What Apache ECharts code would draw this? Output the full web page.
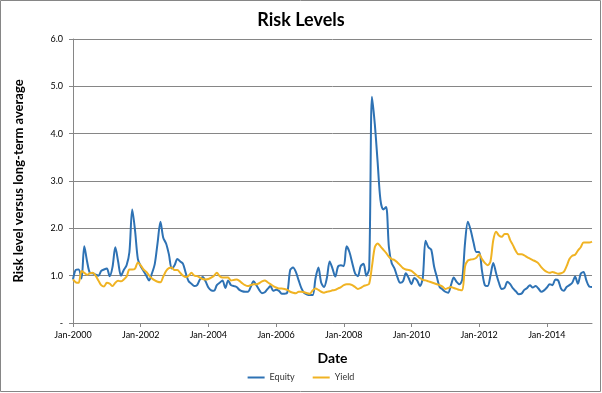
<!DOCTYPE html>
<html>
<head>
<meta charset="utf-8">
<script src="https://cdn.jsdelivr.net/npm/echarts@6/dist/echarts.min.js"></script>
<style>
html,body{margin:0;padding:0;background:#fff;}
#chart{width:602px;height:393px;}
</style>
</head>
<body>
<div id="chart"></div>
<script>
// Monthly observations, Jan-2000 .. May-2015
var startYear = 2000;
var monthNames = ['Jan','Feb','Mar','Apr','May','Jun','Jul','Aug','Sep','Oct','Nov','Dec'];

var equity = [
 0.92,1.12,1.13,0.94,1.62,1.30,1.06,1.05,1.02,1.00,1.10,1.13,
 1.15,0.99,1.18,1.60,1.30,1.00,1.12,1.22,1.50,2.40,1.95,1.35,
 1.20,1.10,1.00,0.90,1.05,1.25,1.70,2.14,1.80,1.68,1.45,1.15,
 1.22,1.35,1.30,1.25,1.05,0.88,0.83,0.78,0.80,0.92,0.97,0.88,
 0.75,0.69,0.68,0.80,0.85,0.90,0.74,0.90,0.80,0.78,0.76,0.70,
 0.67,0.66,0.66,0.76,0.88,0.80,0.70,0.63,0.65,0.72,0.78,0.68,
 0.70,0.68,0.62,0.62,0.65,1.12,1.17,1.08,0.90,0.73,0.63,0.60,
 0.59,0.59,0.95,1.17,0.85,0.76,0.95,1.30,1.15,0.98,1.20,1.22,
 1.20,1.62,1.50,1.27,1.05,0.99,1.20,1.25,1.00,1.15,4.78,4.20,
 3.40,2.60,2.40,2.45,1.60,1.26,1.15,0.97,0.85,0.88,1.05,0.95,
 0.82,0.95,0.90,0.78,0.95,1.74,1.60,1.55,1.20,0.97,0.76,0.71,
 0.66,0.64,0.80,0.96,0.87,0.82,0.92,1.70,2.14,1.96,1.70,1.50,
 1.50,1.10,0.80,0.78,1.00,1.27,1.05,0.85,0.72,0.74,0.87,0.82,
 0.73,0.67,0.61,0.62,0.70,0.74,0.80,0.75,0.78,0.73,0.66,0.69,
 0.75,0.82,0.80,0.92,0.90,0.73,0.68,0.76,0.80,0.85,0.98,0.83,
 1.04,1.08,0.90,0.77,0.76
];

var yieldRisk = [
 0.92,0.86,0.85,1.10,1.06,1.02,1.05,1.06,1.00,0.90,0.80,0.77,
 0.85,0.83,0.78,0.85,0.89,0.88,0.92,0.98,1.13,1.13,1.15,1.28,
 1.22,1.13,1.08,1.00,0.94,0.90,0.87,0.86,0.98,1.10,1.16,1.17,
 1.12,1.12,1.06,1.00,0.97,1.00,1.06,1.00,0.99,0.96,0.93,0.92,
 0.93,0.96,1.00,1.06,0.99,0.96,0.96,0.96,0.90,0.91,0.92,0.89,
 0.84,0.80,0.78,0.80,0.82,0.82,0.84,0.88,0.90,0.86,0.82,0.78,
 0.75,0.73,0.73,0.72,0.70,0.66,0.64,0.63,0.66,0.66,0.65,0.63,
 0.62,0.69,0.73,0.70,0.66,0.64,0.66,0.67,0.69,0.70,0.73,0.76,
 0.80,0.82,0.82,0.80,0.76,0.72,0.74,0.78,0.80,0.83,1.20,1.60,
 1.68,1.62,1.55,1.48,1.40,1.35,1.33,1.28,1.22,1.16,1.13,1.12,
 1.10,1.05,1.00,0.95,0.91,0.90,0.88,0.86,0.84,0.82,0.80,0.77,
 0.72,0.74,0.76,0.74,0.72,0.70,0.69,1.20,1.32,1.34,1.35,1.38,
 1.45,1.35,1.27,1.22,1.30,1.75,1.93,1.85,1.82,1.88,1.88,1.75,
 1.64,1.52,1.45,1.45,1.43,1.39,1.36,1.33,1.30,1.26,1.18,1.12,
 1.08,1.06,1.08,1.06,1.04,1.05,1.08,1.20,1.35,1.42,1.44,1.53,
 1.60,1.70,1.70,1.70,1.72
];

var yTicks = ['-','1.0','2.0','3.0','4.0','5.0','6.0'];

var categories = [];
for (var i = 0; i < equity.length; i++) {
  var y = startYear + Math.floor(i / 12);
  categories.push(monthNames[i % 12] + '-' + y);
}

var FONT = 'Lato, "Open Sans", sans-serif';
var chart = echarts.init(document.getElementById('chart'));
chart.setOption({
  animation: false,
  backgroundColor: '#fff',
  textStyle: { fontFamily: FONT },
  title: {
    text: 'Risk Levels',
    left: 'center',
    top: 6,
    textStyle: { fontFamily: FONT, fontSize: 18, fontWeight: 'bold', color: '#000' }
  },
  graphic: [{
    type: 'rect',
    shape: { x: 0.5, y: 0.5, width: 600, height: 391 },
    style: { fill: 'none', stroke: '#868686', lineWidth: 1 },
    silent: true
  }],
  legend: {
    bottom: 6,
    left: 'center',
    itemWidth: 17,
    itemHeight: 2,
    itemGap: 18,
    icon: 'rect',
    textStyle: { fontFamily: FONT, fontSize: 9, color: '#333' },
    data: ['Equity', 'Yield']
  },
  grid: { left: 73, right: 10, top: 39, bottom: 70 },
  xAxis: {
    type: 'category',
    data: categories,
    boundaryGap: false,
    name: 'Date',
    nameLocation: 'middle',
    nameGap: 28,
    nameTextStyle: { fontFamily: FONT, fontSize: 14, fontWeight: 'bold', color: '#000' },
    axisLine: { lineStyle: { color: '#868686', width: 1 } },
    axisTick: { show: true, interval: 23, length: 4, lineStyle: { color: '#868686' } },
    axisLabel: { interval: 23, fontSize: 9, color: '#000', margin: 8, fontFamily: FONT },
    splitLine: { show: false }
  },
  yAxis: {
    type: 'value',
    min: 0,
    max: 6,
    interval: 1,
    name: 'Risk level versus long-term average',
    nameLocation: 'middle',
    nameGap: 48,
    nameTextStyle: { fontFamily: FONT, fontSize: 13, fontWeight: 'bold', color: '#000' },
    axisLine: { show: true, lineStyle: { color: '#868686', width: 1 } },
    axisTick: { show: true, length: 4, lineStyle: { color: '#868686' } },
    axisLabel: {
      fontSize: 9, color: '#000', margin: 10, fontFamily: FONT,
      formatter: function (v) { return yTicks[Math.round(v)]; }
    },
    splitLine: { lineStyle: { color: '#868686', width: 1 } }
  },
  series: [
    {
      name: 'Equity',
      type: 'line',
      data: equity,
      showSymbol: false,
      smooth: 0.3,
      lineStyle: { color: '#2E72B4', width: 2 },
      itemStyle: { color: '#2E72B4' }
    },
    {
      name: 'Yield',
      type: 'line',
      data: yieldRisk,
      showSymbol: false,
      smooth: 0.3,
      lineStyle: { color: '#F0B323', width: 2 },
      itemStyle: { color: '#F0B323' }
    }
  ]
});
</script>
</body>
</html>
